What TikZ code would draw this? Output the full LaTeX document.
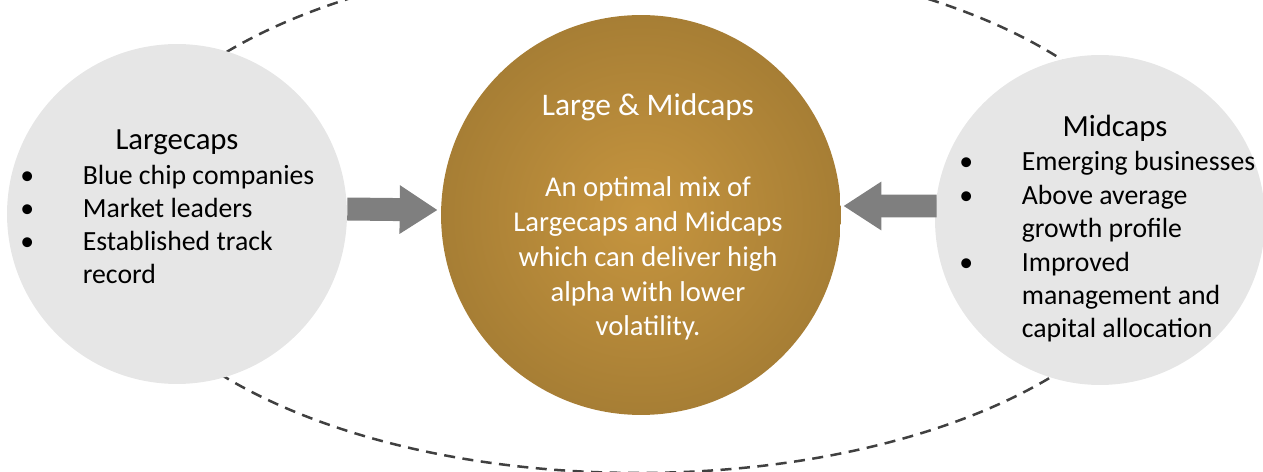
\documentclass[tikz,border=0pt]{standalone}
\usepackage{fontspec}
\setmainfont{Carlito}
\usetikzlibrary{positioning,arrows.meta}
\definecolor{capgray}{HTML}{E6E6E6}
\definecolor{arrowgray}{HTML}{7F7F7F}
\definecolor{dashgray}{HTML}{404040}
\definecolor{goldin}{HTML}{C6953F}
\definecolor{goldout}{HTML}{87672A}
\pgfdeclareradialshading{goldglow}{\pgfpoint{0bp}{0bp}}{color(0bp)=(goldin); color(50bp)=(goldout)}
\newcommand{\bul}{\makebox[1.25cm][l]{\textbullet}}
\newcommand{\cont}{\hspace*{1.25cm}}
\tikzset{
  capcircle/.style={circle, fill=capgray, inner sep=0pt},
  mixcircle/.style={circle, shading=goldglow, inner sep=0pt},
  captitle/.style={font=\fontsize{17.5}{19}\selectfont, anchor=base, inner sep=0pt},
  caplist/.style={font=\fontsize{15.8}{19}\selectfont, align=left, anchor=base west, inner sep=0pt},
  mixtitle/.style={font=\fontsize{17.9}{20}\selectfont, text=white, anchor=base, inner sep=0pt},
  mixtext/.style={font=\fontsize{16.3}{19.8}\selectfont, align=center, text=white, anchor=base, inner sep=0pt},
  blockarrow/.style={-{Triangle[length=0.76cm, width=0.92cm]}, line width=0.46cm, draw=arrowgray},
  orbit/.style={dash pattern=on 0.22cm off 0.15cm, line width=0.05cm, draw=dashgray}
}

\begin{document}
\begin{tikzpicture}[x=0.02cm, y=-0.02cm]
  \useasboundingbox (0,0) rectangle (1263,472);
  % dashed orbit behind the circles
  \coordinate (hub) at (638,215);
  \draw[orbit] (hub) ellipse [x radius=10.62cm, y radius=5.16cm];

  \node[capcircle, minimum size=6.8cm] (large) at (177,214) {};
  \node[mixcircle, minimum size=8cm] (mix) at (641,215) {};
  \node[capcircle, minimum size=6.6cm] (mid) at (1100,220) {};

  \draw[blockarrow] ([yshift=0.1cm]large.east) -- ([yshift=0.1cm, xshift=-0.06cm]mix.west);
  \draw[blockarrow] ([yshift=0.28cm, xshift=0.04cm]mid.west) -- ([yshift=0.18cm, xshift=0.04cm]mix.east);

  % texts, placed by the baseline of their last line
  \node[captitle] (largetitle) at (177,150) {Largecaps};
  \node[caplist, font=\fontsize{15.8}{18.9}\selectfont] (largelist) at (20,284) {\bul Blue chip companies\\ \bul Market leaders\\ \bul Established track\\ \cont record};

  \node[mixtitle] (mixtitle) at (648,116) {Large \& Midcaps};
  \node[mixtext] (mixbody) at (648,336) {An optimal mix of\\ Largecaps and Midcaps\\ which can deliver high\\ alpha with lower\\ volatility.};

  \node[captitle] (midtitle) at (1115,137) {Midcaps};
  \node[caplist, font=\fontsize{15.8}{19.05}\selectfont] (midlist) at (959,338) {\bul Emerging businesses\\ \bul Above average\\ \cont growth profile\\ \bul Improved\\ \cont management and\\ \cont capital allocation};
\end{tikzpicture}
\end{document}
